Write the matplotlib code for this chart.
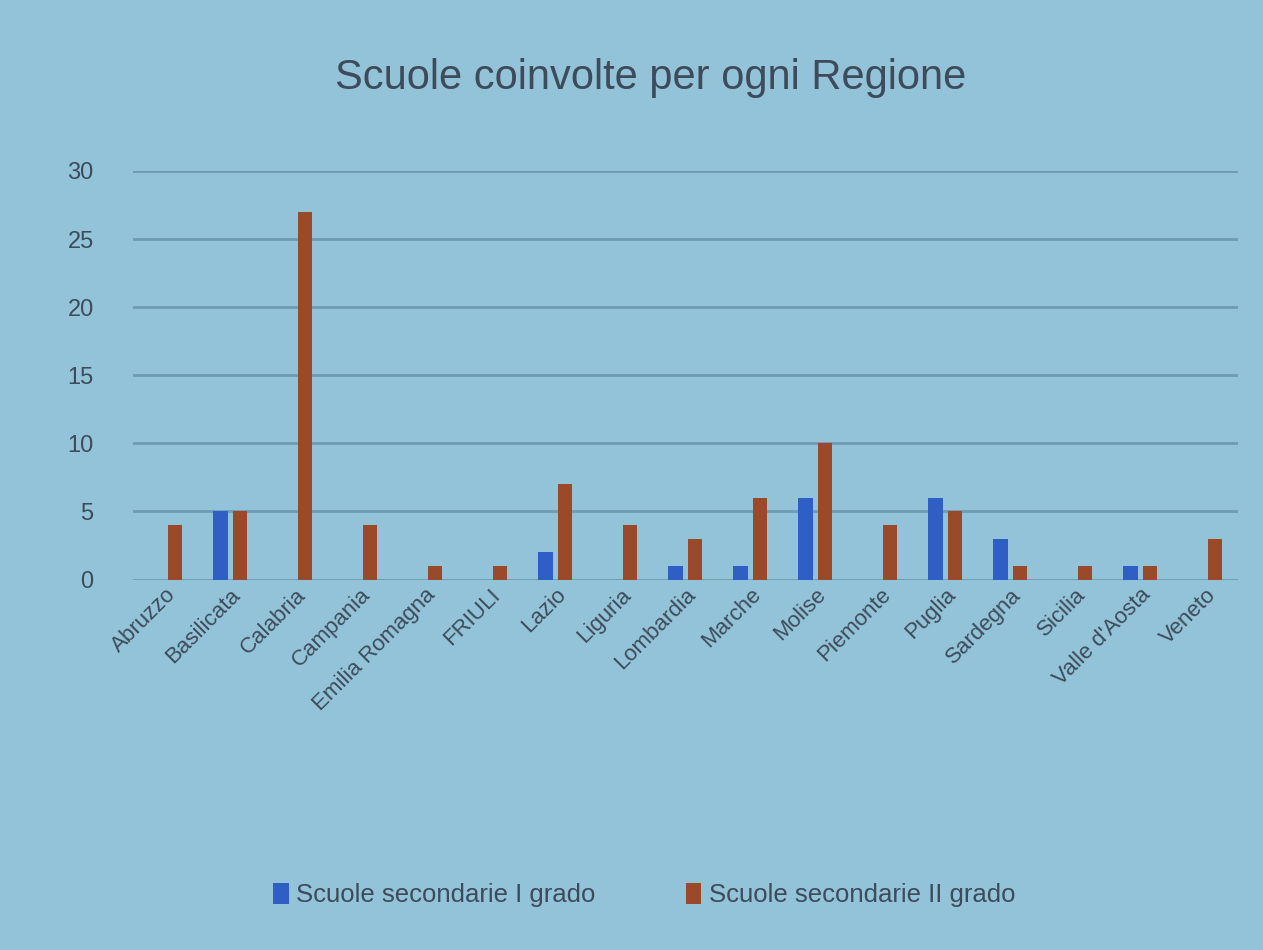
import numpy as np
import matplotlib.pyplot as plt

plt.rcParams['font.family'] = ['Liberation Sans', 'DejaVu Sans']

regioni = ['Abruzzo', 'Basilicata', 'Calabria', 'Campania', 'Emilia Romagna', 'FRIULI',
           'Lazio', 'Liguria', 'Lombardia', 'Marche', 'Molise', 'Piemonte', 'Puglia',
           'Sardegna', 'Sicilia', "Valle d'Aosta", 'Veneto']
primo_grado = [0, 5, 0, 0, 0, 0, 2, 0, 1, 1, 6, 0, 6, 3, 0, 1, 0]
secondo_grado = [4, 5, 27, 4, 1, 1, 7, 4, 3, 6, 10, 4, 5, 1, 1, 1, 3]

bg = '#93c3d8'
text_col = '#3d4b5a'

fig = plt.figure(figsize=(12.63, 9.5), dpi=100, facecolor=bg)
ax = fig.add_axes([0.105, 0.39, 0.875, 0.43], facecolor=bg)

x = np.arange(len(regioni))
w = 0.22
ax.bar(x - 0.15, primo_grado, w, color='#2f5fc4', label='Scuole secondarie I grado', zorder=3)
ax.bar(x + 0.15, secondo_grado, w, color='#9a4a2a', label='Scuole secondarie II grado', zorder=3)

ax.set_ylim(0, 30)
ax.set_xlim(-0.5, len(regioni) - 0.5)
ax.set_yticks(range(0, 31, 5))
ax.yaxis.grid(True, color='#6e9db3', linewidth=2, zorder=0)
for s in ax.spines.values():
    s.set_visible(False)
ax.tick_params(length=0, colors=text_col)
ax.tick_params(axis='y', labelsize=17, pad=28)
ax.set_xticks(x)
ax.set_xticklabels(regioni, rotation=45, ha='right', rotation_mode='anchor', fontsize=16, color=text_col)

fig.text(0.515, 0.918, 'Scuole coinvolte per ogni Regione', ha='center', va='center',
         fontsize=30, color=text_col)

fig.legend(loc='center', bbox_to_anchor=(0.51, 0.058), ncol=2, frameon=False,
           fontsize=18.5, handlelength=0.6, handleheight=0.9, columnspacing=3.5, handletextpad=0.3,
           labelcolor=text_col)

fig.savefig('out.png', dpi=100, facecolor=bg)
